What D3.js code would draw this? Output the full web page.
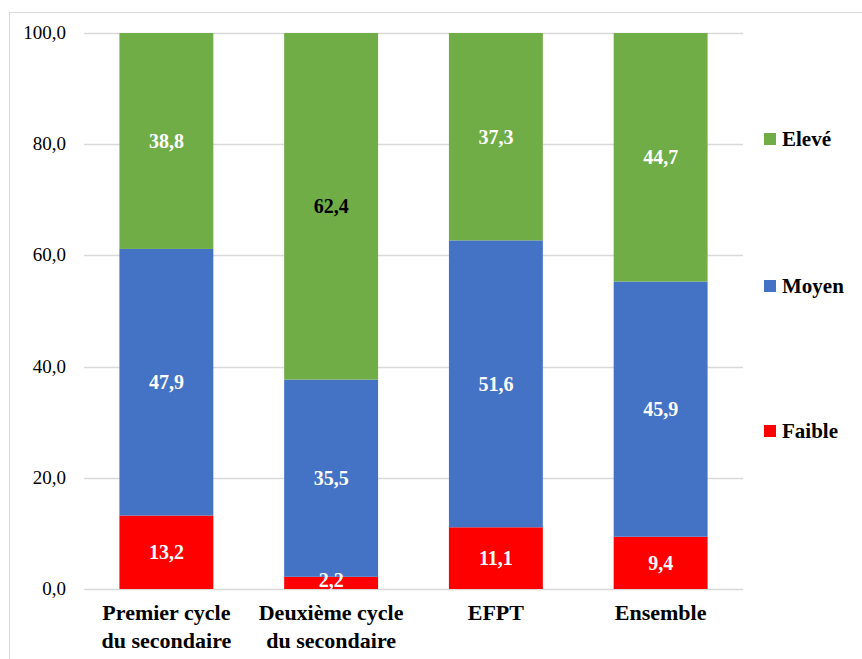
<!DOCTYPE html>
<html>
<head>
<meta charset="utf-8">
<script src="https://cdn.jsdelivr.net/npm/d3@7"></script>
<style>
  svg text, svg tspan { font-family: "Liberation Serif", "Times New Roman", serif !important; }
</style>
</head>
<body style="margin:0">
<div id="viz"></div>
<script>
var width = 862;
var height = 659;

var categories = [["Premier cycle", "du secondaire"], ["Deuxième cycle", "du secondaire"], ["EFPT"], ["Ensemble"]];
var series = ["Faible", "Moyen", "Elevé"];
var faible = [13.2, 2.2, 11.1, 9.4];
var moyen = [47.9, 35.5, 51.6, 45.9];
var eleve = [38.8, 62.4, 37.3, 44.7];
var colors = ["#ff0000", "#4472c4", "#70ad47"];
var yTicks = [0, 20, 40, 60, 80, 100];

var font = "'Liberation Serif'";
var margin = {left: 84, right: 119, top: 33, bottom: 70};

var svg = d3.select('#viz')
  .append('svg')
  .attr('width', width)
  .attr('height', height)
  .attr('font-family', font);

// chart frame
svg.append('rect')
  .attr('x', 9.5).attr('y', 12.5)
  .attr('width', 880).attr('height', 700)
  .attr('fill', 'none')
  .attr('stroke', '#d9d9d9');

var x = d3.scaleBand()
  .domain(d3.range(categories.length))
  .range([margin.left, width - margin.right])
  .paddingInner(0.43)
  .paddingOuter(0.215);

var y = d3.scaleLinear()
  .domain([0, 100])
  .range([height - margin.bottom, margin.top]);

// gridlines
svg.selectAll('line.grid')
  .data(yTicks)
  .enter()
  .append('line')
  .attr('class', 'grid')
  .attr('x1', margin.left)
  .attr('x2', width - margin.right)
  .attr('y1', d => Math.round(y(d)) + 0.5)
  .attr('y2', d => Math.round(y(d)) + 0.5)
  .attr('stroke', '#d9d9d9')
  .attr('stroke-width', 1.5);

// y axis labels
var fmt = d => d.toFixed(1).replace('.', ',');
svg.selectAll('text.ytick')
  .data(yTicks)
  .enter()
  .append('text')
  .attr('class', 'ytick')
  .attr('x', 66)
  .attr('y', d => y(d) + 6)
  .attr('text-anchor', 'end')
  .attr('font-size', '19px')
  .attr('fill', '#000')
  .text(fmt);

// stack (Excel 100% stacked: normalized)
var rows = categories.map((c, i) => ({Faible: faible[i], Moyen: moyen[i], "Elevé": eleve[i]}));
var stacked = d3.stack().keys(series).offset(d3.stackOffsetExpand)(rows);

var groups = svg.selectAll('g.layer')
  .data(stacked)
  .enter()
  .append('g')
  .attr('class', 'layer')
  .attr('fill', (d, i) => colors[i]);

groups.selectAll('rect')
  .data(d => d)
  .enter()
  .append('rect')
  .attr('x', (d, i) => x(i))
  .attr('width', x.bandwidth())
  .attr('y', d => y(d[1] * 100))
  .attr('height', d => y(d[0] * 100) - y(d[1] * 100));

// value labels
var values = [faible, moyen, eleve];
stacked.forEach(function(layer, s) {
  svg.selectAll(null)
    .data(layer)
    .enter()
    .append('text')
    .attr('x', (d, i) => x(i) + x.bandwidth() / 2)
    .attr('y', d => (s === 0 && (d[1] - d[0]) < 0.05) ? y(d[1] * 100) + 10 : y((d[0] + d[1]) * 50) + 7)
    .attr('text-anchor', 'middle')
    .attr('font-size', '20px')
    .attr('font-weight', 'bold')
    .attr('fill', (d, i) => (s === 2 && i === 1) ? '#000' : '#fff')
    .text((d, i) => fmt(values[s][i]));
});

// category labels
var cat = svg.selectAll('text.cat')
  .data(categories)
  .enter()
  .append('text')
  .attr('class', 'cat')
  .attr('x', (d, i) => x(i) + x.bandwidth() / 2)
  .attr('y', 620)
  .attr('text-anchor', 'middle')
  .attr('font-size', '22px')
  .attr('font-weight', 'bold')
  .attr('fill', '#000');

cat.selectAll('tspan')
  .data(d => d)
  .enter()
  .append('tspan')
  .attr('x', function() { return d3.select(this.parentNode).attr('x'); })
  .attr('dy', (d, i) => i === 0 ? 0 : 28)
  .text(d => d);

// legend
var legendY = [431, 286, 139];
var legend = svg.selectAll('g.legend')
  .data(series)
  .enter()
  .append('g')
  .attr('class', 'legend')
  .attr('transform', (d, i) => 'translate(764,' + legendY[i] + ')');

legend.append('rect')
  .attr('x', 0)
  .attr('y', -6)
  .attr('width', 12)
  .attr('height', 12)
  .attr('fill', (d, i) => colors[i]);

legend.append('text')
  .attr('x', 18)
  .attr('y', 7)
  .attr('font-size', '21px')
  .attr('font-weight', 'bold')
  .attr('fill', '#000')
  .text(d => d);
</script>
</body>
</html>
